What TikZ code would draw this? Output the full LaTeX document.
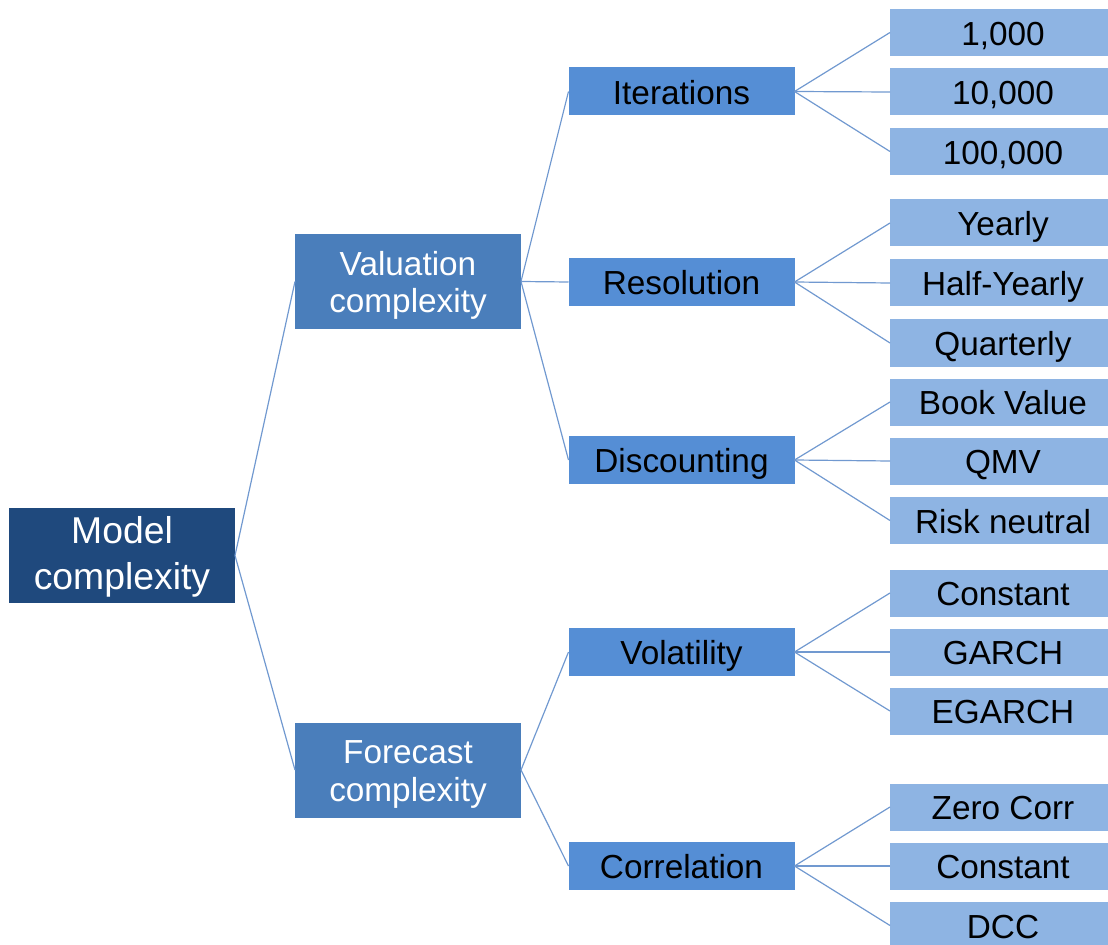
\documentclass[tikz,border=0pt]{standalone}
\usepackage{fontspec}
\setmainfont{Liberation Sans}
\definecolor{rootblue}{HTML}{1F497D}
\definecolor{midblue}{HTML}{4A7EBB}
\definecolor{subblue}{HTML}{558ED5}
\definecolor{leafblue}{HTML}{8EB4E3}
\definecolor{linkblue}{HTML}{7199D0}
% stacked lines, set a little lower inside their box
\newcommand\boxtext[2]{\raisebox{-#1}[\height][\depth]{\begin{tabular}{@{}c@{}}#2\end{tabular}}}
\tikzset{
  box/.style={rectangle, inner sep=0pt, outer sep=0pt,
    minimum width=169.5pt},
  rootbox/.style={box, fill=rootblue, text=white, minimum height=71.25pt,
    font=\fontsize{28}{34.5}\selectfont},
  topicbox/.style={box, fill=midblue, text=white, minimum height=71.25pt,
    font=\fontsize{25}{28.2}\selectfont},
  subbox/.style={box, fill=subblue, text=black, minimum height=36pt,
    font=\fontsize{25}{30}\selectfont},
  leafbox/.style={box, fill=leafblue, text=black, minimum height=35.25pt,
    font=\fontsize{25}{30}\selectfont},
  link/.style={draw=linkblue, line width=0.9pt}
}
\begin{document}
\begin{tikzpicture}[x=0.75pt, y=-0.75pt]
\useasboundingbox (0,0) rectangle (1108,945);
\begin{scope}
\clip (0,0) rectangle (1108,945);
% root and second level
\node[rootbox]  (root) at (122,555.5) {\boxtext{1.7pt}{Model\\complexity}};
\node[topicbox] (val)  at (408,281.5) {\boxtext{3.6pt}{Valuation\\complexity}};
\node[topicbox] (fct)  at (408,770)   {\boxtext{3.6pt}{Forecast\\complexity}};
% third level
\node[subbox] (ite) at (681.5,91.5) {\boxtext{3.6pt}{Iterations}};
\node[subbox] (res) at (681.5,282)  {\boxtext{3.6pt}{Resolution}};
\node[subbox] (dis) at (681.5,460)  {\boxtext{3.6pt}{Discounting}};
\node[subbox] (vol) at (681.5,652)  {\boxtext{3.6pt}{Volatility}};
\node[subbox] (cor) at (681.5,866)  {\boxtext{3.6pt}{Correlation}};
% leaves
\node[leafbox] (l1)  at (1003,32.5)  {\boxtext{3.4pt}{1,000}};
\node[leafbox] (l2)  at (1003,92)    {\boxtext{3.4pt}{10,000}};
\node[leafbox] (l3)  at (1003,151.5) {\boxtext{3.4pt}{100,000}};
\node[leafbox] (l4)  at (1003,223)   {\boxtext{3.4pt}{Yearly}};
\node[leafbox] (l5)  at (1003,283)   {\boxtext{3.4pt}{Half-Yearly}};
\node[leafbox] (l6)  at (1003,343)   {\boxtext{3.4pt}{Quarterly}};
\node[leafbox] (l7)  at (1003,402)   {\boxtext{3.4pt}{Book Value}};
\node[leafbox] (l8)  at (1003,461)   {\boxtext{3.4pt}{QMV}};
\node[leafbox] (l9)  at (1003,520.5) {\boxtext{3.4pt}{Risk neutral}};
\node[leafbox] (l10) at (1003,593)   {\boxtext{3.4pt}{Constant}};
\node[leafbox] (l11) at (1003,652)   {\boxtext{3.4pt}{GARCH}};
\node[leafbox] (l12) at (1003,711)   {\boxtext{3.4pt}{EGARCH}};
\node[leafbox] (l13) at (1003,807)   {\boxtext{3.4pt}{Zero Corr}};
\node[leafbox] (l14) at (1003,866)   {\boxtext{3.4pt}{Constant}};
\node[leafbox] (l15) at (1003,925.5) {\boxtext{3.4pt}{DCC}};
% connectors
\foreach \c in {val,fct} \draw[link] (root.east) -- (\c.west);
\foreach \c in {ite,res,dis} \draw[link] (val.east) -- (\c.west);
\foreach \c in {vol,cor} \draw[link] (fct.east) -- (\c.west);
\foreach \c in {l1,l2,l3} \draw[link] (ite.east) -- (\c.west);
\foreach \c in {l4,l5,l6} \draw[link] (res.east) -- (\c.west);
\foreach \c in {l7,l8,l9} \draw[link] (dis.east) -- (\c.west);
\foreach \c in {l10,l11,l12} \draw[link] (vol.east) -- (\c.west);
\foreach \c in {l13,l14,l15} \draw[link] (cor.east) -- (\c.west);
\end{scope}
\end{tikzpicture}
\end{document}
